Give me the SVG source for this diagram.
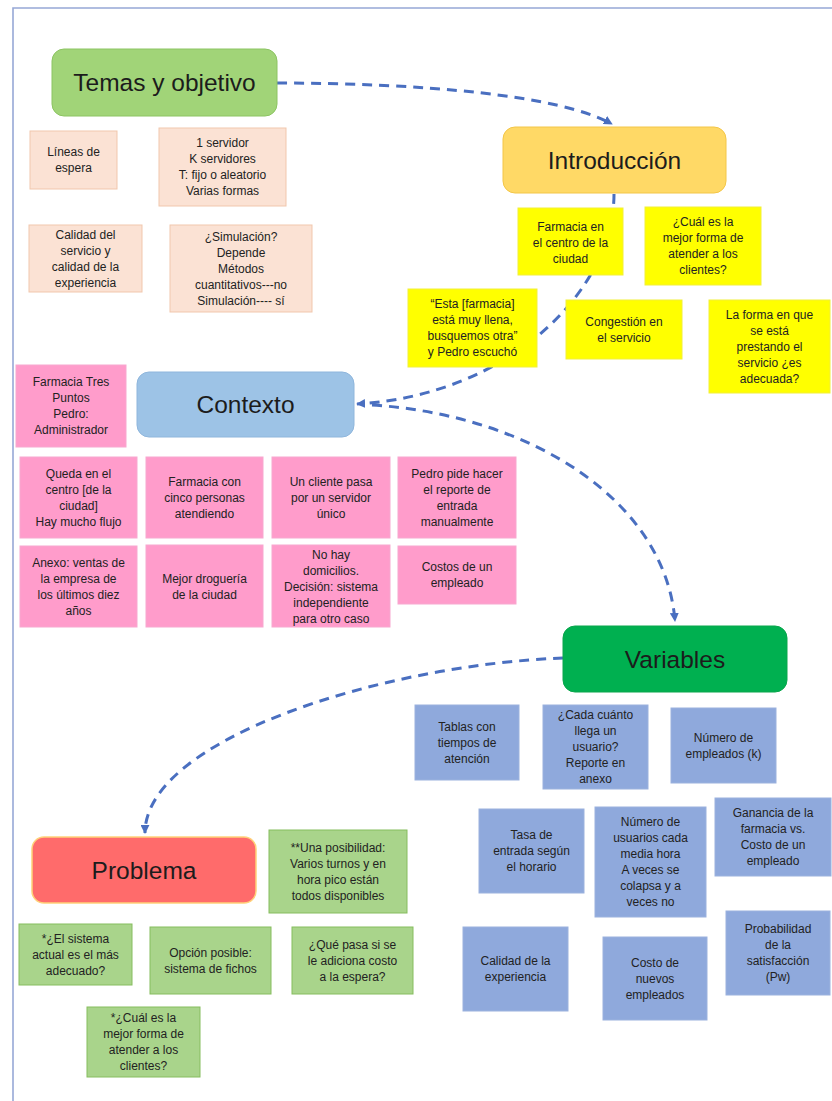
<svg xmlns="http://www.w3.org/2000/svg" width="832" height="1101" viewBox="0 0 832 1101">
  <defs>
    <marker id="arrow" viewBox="0 0 10 10" refX="9" refY="5" markerWidth="9" markerHeight="9" markerUnits="userSpaceOnUse" orient="auto">
      <path d="M0,0 L10,5 L0,10 Z" fill="#4a6fc0"/>
    </marker>
    <style>
      .t { font-family: "Liberation Sans", Arial, sans-serif; font-size: 12px; fill: #222; text-anchor: middle; }
      .h { font-family: "Liberation Sans", Arial, sans-serif; font-size: 24.5px; fill: #1c1c1c; text-anchor: middle; }
      .beige { fill: #fbe2d4; stroke: #f1c7ad; stroke-width: 1; }
      .yellow { fill: #ffff00; stroke: #f2ef3a; stroke-width: 1; }
      .pink { fill: #ff9ccb; stroke: #f7a8cf; stroke-width: 1; }
      .blue { fill: #8fa9dc; stroke: #9bb2de; stroke-width: 1; }
      .green { fill: #a9d48b; stroke: #86bd5e; stroke-width: 1; }
      .link { fill: none; stroke: #4a6fc0; stroke-width: 3; stroke-dasharray: 10 7; }
    </style>
  </defs>

  <rect x="0" y="0" width="832" height="1101" fill="#ffffff"/>
  <!-- page frame -->
  <path d="M13,1101 L13,8 L832,8" fill="none" stroke="#97a8d6" stroke-width="1.6"/>

  <!-- connectors -->
  <g id="connectors">
    <path class="link" d="M277,83 C420,83 560,95 612,124" marker-end="url(#arrow)"/>
    <path class="link" d="M614,194 C614,290 510,395 357,404" marker-end="url(#arrow)"/>
    <path class="link" d="M372,405 C530,415 665,500 675,621" marker-end="url(#arrow)"/>
    <path class="link" d="M563,658 C380,665 145,740 145,833" marker-end="url(#arrow)"/>
  </g>

  <!-- Temas y objetivo -->
  <g id="temas">
    <rect x="52" y="49" width="225" height="67" rx="12" fill="#a1d478" stroke="#8cc462" stroke-width="1"/>
    <text class="h" x="164.5" y="91">Temas y objetivo</text>
  </g>
  <g id="temas-lineas">
    <rect class="beige" x="30" y="131" width="87" height="58"/>
    <text class="t" x="73.5" y="156.3">Líneas de</text>
    <text class="t" x="73.5" y="172.3">espera</text>
  </g>
  <g id="temas-servidores">
    <rect class="beige" x="159" y="128" width="127" height="78"/>
    <text class="t" x="222.5" y="147.3">1 servidor</text>
    <text class="t" x="222.5" y="163.3">K servidores</text>
    <text class="t" x="222.5" y="179.3">T: fijo o aleatorio</text>
    <text class="t" x="222.5" y="195.3">Varias formas</text>
  </g>
  <g id="temas-calidad">
    <rect class="beige" x="29" y="225" width="113" height="67"/>
    <text class="t" x="85.5" y="238.8">Calidad del</text>
    <text class="t" x="85.5" y="254.8">servicio y</text>
    <text class="t" x="85.5" y="270.8">calidad de la</text>
    <text class="t" x="85.5" y="286.8">experiencia</text>
  </g>
  <g id="temas-simulacion">
    <rect class="beige" x="170" y="225" width="142" height="87"/>
    <text class="t" x="241" y="240.8">¿Simulación?</text>
    <text class="t" x="241" y="256.8">Depende</text>
    <text class="t" x="241" y="272.8">Métodos</text>
    <text class="t" x="241" y="288.8">cuantitativos---no</text>
    <text class="t" x="241" y="304.8">Simulación---- sí</text>
  </g>

  <!-- Introducción -->
  <g id="introduccion">
    <rect x="503" y="127" width="223" height="66" rx="12" fill="#ffd966" stroke="#f3c648" stroke-width="1"/>
    <text class="h" x="614.5" y="168.5">Introducción</text>
  </g>
  <g id="intro-farmacia">
    <rect class="yellow" x="518" y="208" width="105" height="67"/>
    <text class="t" x="570.5" y="230.8">Farmacia en</text>
    <text class="t" x="570.5" y="246.8">el centro de la</text>
    <text class="t" x="570.5" y="262.8">ciudad</text>
  </g>
  <g id="intro-pregunta">
    <rect class="yellow" x="645" y="207" width="116" height="78"/>
    <text class="t" x="703" y="226.3">¿Cuál es la</text>
    <text class="t" x="703" y="242.3">mejor forma de</text>
    <text class="t" x="703" y="258.3">atender a los</text>
    <text class="t" x="703" y="274.3">clientes?</text>
  </g>
  <g id="intro-cita">
    <rect class="yellow" x="408" y="289" width="129" height="78"/>
    <text class="t" x="472.5" y="308.3">“Esta [farmacia]</text>
    <text class="t" x="472.5" y="324.3">está muy llena,</text>
    <text class="t" x="472.5" y="340.3">busquemos otra”</text>
    <text class="t" x="472.5" y="356.3">y Pedro escuchó</text>
  </g>
  <g id="intro-congestion">
    <rect class="yellow" x="566" y="300" width="116" height="59"/>
    <text class="t" x="624" y="325.8">Congestión en</text>
    <text class="t" x="624" y="341.8">el servicio</text>
  </g>
  <g id="intro-forma">
    <rect class="yellow" x="709" y="300" width="121" height="93"/>
    <text class="t" x="769.5" y="318.8">La forma en que</text>
    <text class="t" x="769.5" y="334.8">se está</text>
    <text class="t" x="769.5" y="350.8">prestando el</text>
    <text class="t" x="769.5" y="366.8">servicio ¿es</text>
    <text class="t" x="769.5" y="382.8">adecuada?</text>
  </g>

  <!-- Contexto -->
  <g id="contexto">
    <rect x="137" y="372" width="217" height="65" rx="12" fill="#9dc3e6" stroke="#8fb6dc" stroke-width="1"/>
    <text class="h" x="245.5" y="413">Contexto</text>
  </g>
  <g id="ctx-farmacia">
    <rect class="pink" x="16" y="365" width="110" height="82"/>
    <text class="t" x="71" y="386.3">Farmacia Tres</text>
    <text class="t" x="71" y="402.3">Puntos</text>
    <text class="t" x="71" y="418.3">Pedro:</text>
    <text class="t" x="71" y="434.3">Administrador</text>
  </g>
  <g id="ctx-centro">
    <rect class="pink" x="20" y="457" width="117" height="81"/>
    <text class="t" x="78.5" y="477.8">Queda en el</text>
    <text class="t" x="78.5" y="493.8">centro [de la</text>
    <text class="t" x="78.5" y="509.8">ciudad]</text>
    <text class="t" x="78.5" y="525.8">Hay mucho flujo</text>
  </g>
  <g id="ctx-personas">
    <rect class="pink" x="146" y="457" width="117" height="81"/>
    <text class="t" x="204.5" y="485.8">Farmacia con</text>
    <text class="t" x="204.5" y="501.8">cinco personas</text>
    <text class="t" x="204.5" y="517.8">atendiendo</text>
  </g>
  <g id="ctx-servidor">
    <rect class="pink" x="272" y="457" width="118" height="81"/>
    <text class="t" x="331" y="485.8">Un cliente pasa</text>
    <text class="t" x="331" y="501.8">por un servidor</text>
    <text class="t" x="331" y="517.8">único</text>
  </g>
  <g id="ctx-reporte">
    <rect class="pink" x="398" y="457" width="118" height="81"/>
    <text class="t" x="457" y="477.8">Pedro pide hacer</text>
    <text class="t" x="457" y="493.8">el reporte de</text>
    <text class="t" x="457" y="509.8">entrada</text>
    <text class="t" x="457" y="525.8">manualmente</text>
  </g>
  <g id="ctx-anexo">
    <rect class="pink" x="20" y="546" width="117" height="81"/>
    <text class="t" x="78.5" y="566.8">Anexo: ventas de</text>
    <text class="t" x="78.5" y="582.8">la empresa de</text>
    <text class="t" x="78.5" y="598.8">los últimos diez</text>
    <text class="t" x="78.5" y="614.8">años</text>
  </g>
  <g id="ctx-drogueria">
    <rect class="pink" x="146" y="545" width="117" height="82"/>
    <text class="t" x="204.5" y="582.8">Mejor droguería</text>
    <text class="t" x="204.5" y="598.8">de la ciudad</text>
  </g>
  <g id="ctx-domicilios">
    <rect class="pink" x="272" y="545" width="118" height="82"/>
    <text class="t" x="331" y="558.8">No hay</text>
    <text class="t" x="331" y="574.8">domicilios.</text>
    <text class="t" x="331" y="590.8">Decisión: sistema</text>
    <text class="t" x="331" y="606.8">independiente</text>
    <text class="t" x="331" y="622.8">para otro caso</text>
  </g>
  <g id="ctx-costos">
    <rect class="pink" x="398" y="546" width="118" height="58"/>
    <text class="t" x="457" y="571.3">Costos de un</text>
    <text class="t" x="457" y="587.3">empleado</text>
  </g>

  <!-- Variables -->
  <g id="variables">
    <rect x="563" y="626" width="224" height="66" rx="12" fill="#00b050" stroke="#0aa64c" stroke-width="1"/>
    <text class="h" x="675" y="667.5">Variables</text>
  </g>
  <g id="var-tablas">
    <rect class="blue" x="415" y="705" width="104" height="75"/>
    <text class="t" x="467" y="730.8">Tablas con</text>
    <text class="t" x="467" y="746.8">tiempos de</text>
    <text class="t" x="467" y="762.8">atención</text>
  </g>
  <g id="var-llegada">
    <rect class="blue" x="543" y="705" width="105" height="84"/>
    <text class="t" x="595.5" y="719.3">¿Cada cuánto</text>
    <text class="t" x="595.5" y="735.3">llega un</text>
    <text class="t" x="595.5" y="751.3">usuario?</text>
    <text class="t" x="595.5" y="767.3">Reporte en</text>
    <text class="t" x="595.5" y="783.3">anexo</text>
  </g>
  <g id="var-empleados">
    <rect class="blue" x="671" y="708" width="105" height="75"/>
    <text class="t" x="723.5" y="741.8">Número de</text>
    <text class="t" x="723.5" y="757.8">empleados (k)</text>
  </g>
  <g id="var-tasa">
    <rect class="blue" x="479" y="809" width="105" height="84"/>
    <text class="t" x="531.5" y="839.3">Tasa de</text>
    <text class="t" x="531.5" y="855.3">entrada según</text>
    <text class="t" x="531.5" y="871.3">el horario</text>
  </g>
  <g id="var-usuarios">
    <rect class="blue" x="595" y="807" width="111" height="110"/>
    <text class="t" x="650.5" y="826.3">Número de</text>
    <text class="t" x="650.5" y="842.3">usuarios cada</text>
    <text class="t" x="650.5" y="858.3">media hora</text>
    <text class="t" x="650.5" y="874.3">A veces se</text>
    <text class="t" x="650.5" y="890.3">colapsa y a</text>
    <text class="t" x="650.5" y="906.3">veces no</text>
  </g>
  <g id="var-ganancia">
    <rect class="blue" x="715" y="798" width="116" height="78"/>
    <text class="t" x="773" y="817.3">Ganancia de la</text>
    <text class="t" x="773" y="833.3">farmacia vs.</text>
    <text class="t" x="773" y="849.3">Costo de un</text>
    <text class="t" x="773" y="865.3">empleado</text>
  </g>
  <g id="var-calidad">
    <rect class="blue" x="463" y="927" width="105" height="84"/>
    <text class="t" x="515.5" y="965.3">Calidad de la</text>
    <text class="t" x="515.5" y="981.3">experiencia</text>
  </g>
  <g id="var-costo">
    <rect class="blue" x="603" y="937" width="104" height="83"/>
    <text class="t" x="655" y="966.8">Costo de</text>
    <text class="t" x="655" y="982.8">nuevos</text>
    <text class="t" x="655" y="998.8">empleados</text>
  </g>
  <g id="var-probabilidad">
    <rect class="blue" x="726" y="911" width="104" height="84"/>
    <text class="t" x="778" y="933.3">Probabilidad</text>
    <text class="t" x="778" y="949.3">de la</text>
    <text class="t" x="778" y="965.3">satisfacción</text>
    <text class="t" x="778" y="981.3">(Pw)</text>
  </g>

  <!-- Problema -->
  <g id="problema">
    <rect x="32" y="837" width="224" height="66" rx="12" fill="#ff6b6b" stroke="#ffd27a" stroke-width="1.5"/>
    <text class="h" x="144" y="878.5">Problema</text>
  </g>
  <g id="prob-posibilidad">
    <rect class="green" x="269" y="830" width="138" height="83"/>
    <text class="t" x="338" y="851.8">**Una posibilidad:</text>
    <text class="t" x="338" y="867.8">Varios turnos y en</text>
    <text class="t" x="338" y="883.8">hora pico están</text>
    <text class="t" x="338" y="899.8">todos disponibles</text>
  </g>
  <g id="prob-sistema">
    <rect class="green" x="19" y="924" width="113" height="61"/>
    <text class="t" x="75.5" y="942.8">*¿El sistema</text>
    <text class="t" x="75.5" y="958.8">actual es el más</text>
    <text class="t" x="75.5" y="974.8">adecuado?</text>
  </g>
  <g id="prob-fichos">
    <rect class="green" x="150" y="927" width="121" height="67"/>
    <text class="t" x="210.5" y="956.8">Opción posible:</text>
    <text class="t" x="210.5" y="972.8">sistema de fichos</text>
  </g>
  <g id="prob-espera">
    <rect class="green" x="292" y="927" width="121" height="67"/>
    <text class="t" x="352.5" y="948.8">¿Qué pasa si se</text>
    <text class="t" x="352.5" y="964.8">le adiciona costo</text>
    <text class="t" x="352.5" y="980.8">a la espera?</text>
  </g>
  <g id="prob-forma">
    <rect class="green" x="87" y="1007" width="113" height="70"/>
    <text class="t" x="143.5" y="1022.3">*¿Cuál es la</text>
    <text class="t" x="143.5" y="1038.3">mejor forma de</text>
    <text class="t" x="143.5" y="1054.3">atender a los</text>
    <text class="t" x="143.5" y="1070.3">clientes?</text>
  </g>
</svg>
